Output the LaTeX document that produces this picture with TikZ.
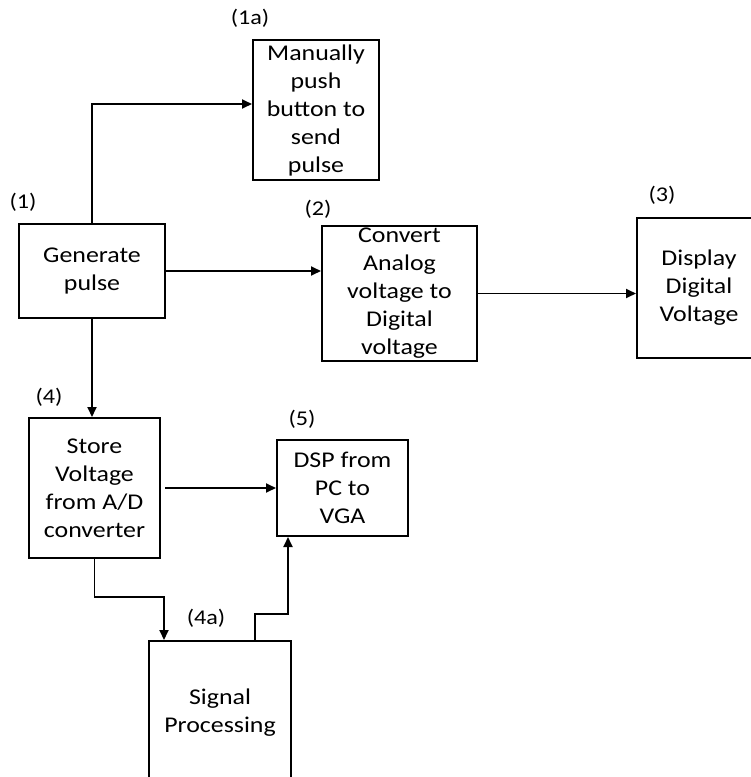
\documentclass[tikz,border=0pt]{standalone}
\usepackage{fontspec}
\setmainfont{Carlito}[FakeStretch=1.15]
\usetikzlibrary{arrows.meta}
\begin{document}
\begin{tikzpicture}[x=1pt,y=-1pt,
  box/.style={draw, line width=2pt, inner sep=0pt, align=center,
    font=\fontsize{22.5}{28}\selectfont},
  tag/.style={inner sep=0pt, font=\fontsize{21}{25}\selectfont},
  arr/.style={line width=1.8pt, -{Triangle[length=10pt,width=9pt]}}]
\useasboundingbox (0,0) rectangle (751,777);

% process blocks
\node[box, minimum width=126pt, minimum height=140pt] (m1a) at (316,110)
  {Manually\\push\\button to\\send\\pulse};
\node[box, minimum width=146pt, minimum height=94pt] (gen) at (92,271)
  {Generate\\pulse};
\node[box, minimum width=155pt, minimum height=135pt] (conv) at (399.5,293.5)
  {Convert\\Analog\\voltage to\\Digital\\voltage};
\node[box, minimum width=124pt, minimum height=140pt] (disp) at (699,288)
  {Display\\Digital\\Voltage};
\node[box, minimum width=131pt, minimum height=140pt] (store) at (94.5,488)
  {Store\\Voltage\\from A/D\\converter};
\node[box, minimum width=131pt, minimum height=96pt] (dsp) at (342.5,488)
  {DSP from\\PC to\\VGA};
\node[box, minimum width=142pt, minimum height=144pt] (sig) at (220,713)
  {Signal\\Processing};

% step numbers
\node[tag] (t1a) at (250,18) {(1a)};
\node[tag] (t1) at (23,202) {(1)};
\node[tag] (t2) at (318,209) {(2)};
\node[tag] (t3) at (662,195) {(3)};
\node[tag] (t4) at (49,397) {(4)};
\node[tag] (t5) at (302,419) {(5)};
\node[tag] (t4a) at (206,618) {(4a)};

% connectors
\draw[arr] (gen.north) |- ([yshift=6pt]m1a.west);
\draw[arr] (gen.east) -- (gen.east -| conv.west);
\draw[arr] (conv.east) -- (conv.east -| disp.west);
\draw[arr] (gen.south) -- (gen.south |- store.north);
\draw[arr] ([xshift=4pt]store.east) -- (dsp.west);
\draw[arr] (store.south) -- ++(0,38) -| ([xshift=-56pt]sig.north);
\draw[arr] ([xshift=35pt]sig.north) -- ++(0,-26) -| ([xshift=-54.5pt]dsp.south);
\end{tikzpicture}
\end{document}
